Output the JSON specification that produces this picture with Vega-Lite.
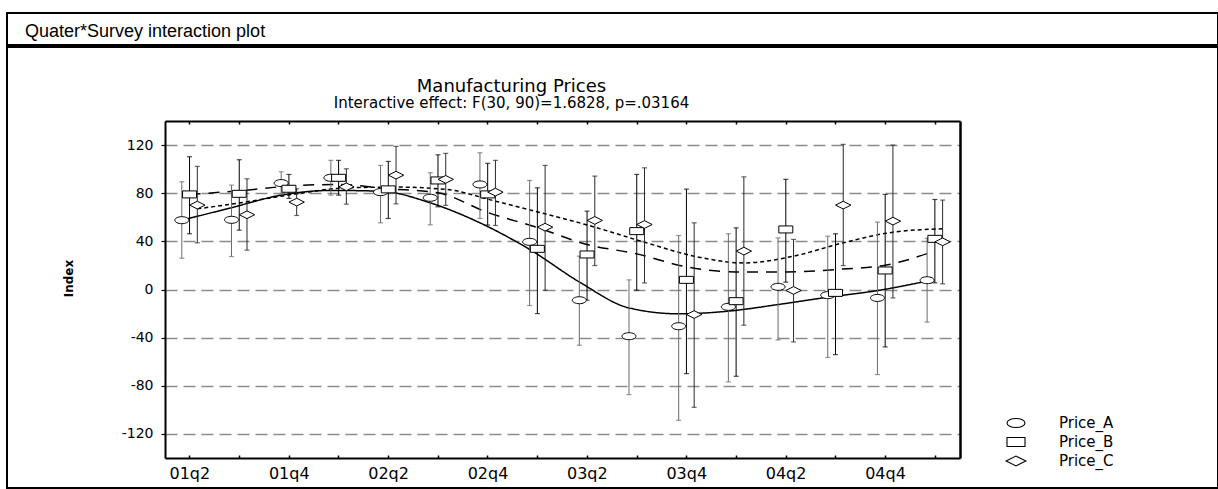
{
  "$schema": "https://vega.github.io/schema/vega-lite/v6.json",
  "background": "white",
  "padding": {"left": 6, "top": 12, "right": 0, "bottom": 0},
  "spacing": 0,
  "config": {
    "view": {"stroke": "black", "strokeWidth": 2, "fill": "white"},
    "font": "DejaVu Sans",
    "axis": {"labelColor": "black", "tickColor": "black", "domainColor": "black", "titleColor": "black", "labelFont": "DejaVu Sans", "titleFont": "DejaVu Sans"},
    "legend": {"labelColor": "black", "labelFont": "DejaVu Sans"},
    "title": {"color": "black", "subtitleColor": "black", "fontWeight": "normal"}
  },
  "datasets": {
    "means": [
      {"q": "01q2", "s": "Price_A", "m": 57.6, "lo": 26.0, "hi": 89.5},
      {"q": "01q3", "s": "Price_A", "m": 57.9, "lo": 27.4, "hi": 86.7},
      {"q": "01q4", "s": "Price_A", "m": 88.4, "lo": 79.0, "hi": 97.8},
      {"q": "02q1", "s": "Price_A", "m": 92.8, "lo": 78.4, "hi": 107.3},
      {"q": "02q2", "s": "Price_A", "m": 80.9, "lo": 55.4, "hi": 103.1},
      {"q": "02q3", "s": "Price_A", "m": 76.2, "lo": 53.7, "hi": 97.0},
      {"q": "02q4", "s": "Price_A", "m": 87.3, "lo": 59.0, "hi": 113.6},
      {"q": "03q1", "s": "Price_A", "m": 39.6, "lo": -13.3, "hi": 90.6},
      {"q": "03q2", "s": "Price_A", "m": -8.9, "lo": -46.3, "hi": 27.7},
      {"q": "03q3", "s": "Price_A", "m": -38.8, "lo": -87.3, "hi": 8.0},
      {"q": "03q4", "s": "Price_A", "m": -30.5, "lo": -108.7, "hi": 44.9},
      {"q": "04q1", "s": "Price_A", "m": -14.4, "lo": -76.8, "hi": 46.3},
      {"q": "04q2", "s": "Price_A", "m": 2.2, "lo": -41.9, "hi": 42.9},
      {"q": "04q3", "s": "Price_A", "m": -4.7, "lo": -56.5, "hi": 44.3},
      {"q": "04q4", "s": "Price_A", "m": -7.0, "lo": -70.7, "hi": 56.0},
      {"q": "05q1", "s": "Price_A", "m": 7.7, "lo": -27.1, "hi": 42.5},
      {"q": "01q2", "s": "Price_B", "m": 79.0, "lo": 46.3, "hi": 110.3},
      {"q": "01q3", "s": "Price_B", "m": 79.5, "lo": 49.3, "hi": 107.8},
      {"q": "01q4", "s": "Price_B", "m": 83.7, "lo": 75.7, "hi": 95.6},
      {"q": "02q1", "s": "Price_B", "m": 92.8, "lo": 78.4, "hi": 107.3},
      {"q": "02q2", "s": "Price_B", "m": 83.2, "lo": 59.0, "hi": 106.4},
      {"q": "02q3", "s": "Price_B", "m": 90.6, "lo": 68.7, "hi": 111.9},
      {"q": "02q4", "s": "Price_B", "m": 79.0, "lo": 53.5, "hi": 104.8},
      {"q": "03q1", "s": "Price_B", "m": 33.8, "lo": -20.0, "hi": 84.5},
      {"q": "03q2", "s": "Price_B", "m": 29.1, "lo": -8.9, "hi": 65.1},
      {"q": "03q3", "s": "Price_B", "m": 48.5, "lo": -0.6, "hi": 95.6},
      {"q": "03q4", "s": "Price_B", "m": 8.0, "lo": -69.9, "hi": 83.4},
      {"q": "04q1", "s": "Price_B", "m": -9.7, "lo": -72.1, "hi": 51.2},
      {"q": "04q2", "s": "Price_B", "m": 49.9, "lo": 6.1, "hi": 91.5},
      {"q": "04q3", "s": "Price_B", "m": -2.8, "lo": -54.1, "hi": 46.3},
      {"q": "04q4", "s": "Price_B", "m": 15.8, "lo": -47.7, "hi": 79.0},
      {"q": "05q1", "s": "Price_B", "m": 42.1, "lo": 5.5, "hi": 74.8},
      {"q": "01q2", "s": "Price_C", "m": 70.1, "lo": 38.8, "hi": 102.3},
      {"q": "01q3", "s": "Price_C", "m": 62.1, "lo": 32.7, "hi": 92.0},
      {"q": "01q4", "s": "Price_C", "m": 72.6, "lo": 61.5, "hi": 83.7},
      {"q": "02q1", "s": "Price_C", "m": 85.3, "lo": 70.9, "hi": 100.3},
      {"q": "02q2", "s": "Price_C", "m": 95.0, "lo": 71.2, "hi": 118.9},
      {"q": "02q3", "s": "Price_C", "m": 91.5, "lo": 69.9, "hi": 113.1},
      {"q": "02q4", "s": "Price_C", "m": 80.9, "lo": 53.2, "hi": 107.3},
      {"q": "03q1", "s": "Price_C", "m": 51.8, "lo": -0.6, "hi": 103.1},
      {"q": "03q2", "s": "Price_C", "m": 57.4, "lo": 19.9, "hi": 94.2},
      {"q": "03q3", "s": "Price_C", "m": 54.0, "lo": 5.5, "hi": 101.1},
      {"q": "03q4", "s": "Price_C", "m": -20.8, "lo": -97.9, "hi": 55.4},
      {"q": "04q1", "s": "Price_C", "m": 31.9, "lo": -29.7, "hi": 93.6},
      {"q": "04q2", "s": "Price_C", "m": -0.8, "lo": -43.6, "hi": 41.6},
      {"q": "04q3", "s": "Price_C", "m": 70.1, "lo": 19.9, "hi": 120.6},
      {"q": "04q4", "s": "Price_C", "m": 56.8, "lo": -7.0, "hi": 120.0},
      {"q": "05q1", "s": "Price_C", "m": 39.6, "lo": 4.7, "hi": 74.3}
    ],
    "curves": [
      {"q": "01q2", "s": "Price_A", "v": 57.5}, {"q": "01q3", "s": "Price_A", "v": 68.0}, {"q": "01q4", "s": "Price_A", "v": 78.4}, {"q": "02q1", "s": "Price_A", "v": 82.3},
      {"q": "02q2", "s": "Price_A", "v": 81.7}, {"q": "02q3", "s": "Price_A", "v": 72.0}, {"q": "02q4", "s": "Price_A", "v": 55.4}, {"q": "03q1", "s": "Price_A", "v": 33.3},
      {"q": "03q2", "s": "Price_A", "v": 6.3}, {"q": "03q3", "s": "Price_A", "v": -15.3}, {"q": "03q4", "s": "Price_A", "v": -20.2}, {"q": "04q1", "s": "Price_A", "v": -18.0},
      {"q": "04q2", "s": "Price_A", "v": -12.5}, {"q": "04q3", "s": "Price_A", "v": -6.4}, {"q": "04q4", "s": "Price_A", "v": -0.9}, {"q": "05q1", "s": "Price_A", "v": 7.0},
      {"q": "01q2", "s": "Price_B", "v": 79.0}, {"q": "01q3", "s": "Price_B", "v": 82.0}, {"q": "01q4", "s": "Price_B", "v": 85.9}, {"q": "02q1", "s": "Price_B", "v": 87.3},
      {"q": "02q2", "s": "Price_B", "v": 83.7}, {"q": "02q3", "s": "Price_B", "v": 80.3}, {"q": "02q4", "s": "Price_B", "v": 64.0}, {"q": "03q1", "s": "Price_B", "v": 51.5},
      {"q": "03q2", "s": "Price_B", "v": 37.4}, {"q": "03q3", "s": "Price_B", "v": 29.6}, {"q": "03q4", "s": "Price_B", "v": 18.8}, {"q": "04q1", "s": "Price_B", "v": 14.6},
      {"q": "04q2", "s": "Price_B", "v": 14.6}, {"q": "04q3", "s": "Price_B", "v": 16.6}, {"q": "04q4", "s": "Price_B", "v": 20.2}, {"q": "05q1", "s": "Price_B", "v": 32.0},
      {"q": "01q2", "s": "Price_C", "v": 67.0}, {"q": "01q3", "s": "Price_C", "v": 72.9}, {"q": "01q4", "s": "Price_C", "v": 79.5}, {"q": "02q1", "s": "Price_C", "v": 84.5},
      {"q": "02q2", "s": "Price_C", "v": 85.1}, {"q": "02q3", "s": "Price_C", "v": 83.2}, {"q": "02q4", "s": "Price_C", "v": 73.4}, {"q": "03q1", "s": "Price_C", "v": 62.9},
      {"q": "03q2", "s": "Price_C", "v": 51.8}, {"q": "03q3", "s": "Price_C", "v": 39.3}, {"q": "03q4", "s": "Price_C", "v": 27.7}, {"q": "04q1", "s": "Price_C", "v": 22.1},
      {"q": "04q2", "s": "Price_C", "v": 27.7}, {"q": "04q3", "s": "Price_C", "v": 38.8}, {"q": "04q4", "s": "Price_C", "v": 47.6}, {"q": "05q1", "s": "Price_C", "v": 50.4}
    ]
  },
  "vconcat": [
    {
      "width": 1211,
      "height": 32,
      "title": {"text": "Quater*Survey  interaction plot", "anchor": "start", "frame": "group", "offset": -28, "dx": 18, "font": "Liberation Sans", "fontSize": 18},
      "data": {"values": [{"k": 0}]},
      "mark": {"type": "point", "opacity": 0, "size": 1},
      "encoding": {
        "x": {"field": "k", "type": "quantitative", "scale": {"domain": [-1, 1]}, "axis": null},
        "y": {"field": "k", "type": "quantitative", "scale": {"domain": [-1, 1]}, "axis": null}
      }
    },
    {
      "width": 1211,
      "height": 441,
      "title": {"text": "Manufacturing Prices", "subtitle": "Interactive effect: F(30, 90)=1.6828, p=.03164", "anchor": "middle", "frame": "group", "offset": -64, "dx": -101, "font": "DejaVu Sans", "fontSize": 18, "subtitleFont": "DejaVu Sans", "subtitleFontSize": 15, "subtitlePadding": 0},
      "resolve": {"axis": {"x": "independent", "y": "independent"}},
      "layer": [
        {
          "data": {"name": "curves"},
          "mark": {"type": "line", "interpolate": "monotone", "color": "black", "strokeWidth": 1.5},
          "encoding": {
            "x": {"field": "q", "type": "ordinal",
              "scale": {"type": "band", "domain": ["01q2","01q3","01q4","02q1","02q2","02q3","02q4","03q1","03q2","03q3","03q4","04q1","04q2","04q3","04q4","05q1"], "range": [158, 953], "paddingInner": 0, "paddingOuter": 0},
              "axis": {"orient": "top", "offset": -74, "labels": false, "tickSize": -3, "tickWidth": 1.5, "domainWidth": 2, "grid": false, "title": null}},
            "xOffset": {"field": "s", "type": "nominal", "scale": {"type": "point", "domain": ["Price_A","Price_B","Price_C"], "range": [16.8, 32.3], "padding": 0}},
            "y": {"field": "v", "type": "quantitative",
              "scale": {"domain": [-140, 140], "nice": false, "zero": false, "range": [411, 74]},
              "axis": {"orient": "right", "offset": -258, "labels": false, "ticks": false, "grid": false, "domainWidth": 2.5, "title": null}},
            "strokeDash": {"field": "s", "type": "nominal", "scale": {"range": [[1, 0], [11, 8], [4, 3]]}, "legend": null}
          }
        },
        {
          "data": {"name": "means"},
          "mark": {"type": "rule", "strokeWidth": 1},
          "encoding": {
            "x": {"field": "q", "type": "ordinal", "axis": null},
            "xOffset": {"field": "s", "type": "nominal"},
            "y": {"field": "lo", "type": "quantitative", "axis": null},
            "y2": {"field": "hi"},
            "color": {"field": "s", "type": "nominal", "scale": {"range": ["#6b6b6b", "#000000", "#2a2a2a"]}, "legend": null}
          }
        },
        {
          "data": {"name": "means"},
          "transform": [{"fold": ["lo", "hi"], "as": ["bound", "bv"]}],
          "mark": {"type": "tick", "orient": "horizontal", "size": 5, "thickness": 1.2},
          "encoding": {
            "x": {"field": "q", "type": "ordinal", "axis": null},
            "xOffset": {"field": "s", "type": "nominal"},
            "y": {"field": "bv", "type": "quantitative", "axis": null},
            "color": {"field": "s", "type": "nominal", "legend": null}
          }
        },
        {
          "data": {"name": "means"},
          "mark": {"type": "point", "filled": true, "fill": "white", "stroke": "black", "strokeWidth": 1, "opacity": 1, "size": 196},
          "encoding": {
            "x": {"field": "q", "type": "ordinal",
              "axis": {"orient": "bottom", "offset": -30, "tickSize": -3, "tickWidth": 1.5, "domainWidth": 2, "labelAngle": 0, "labelFontSize": 16, "labelPadding": 10, "labelExpr": "indexof(datum.value, 'q2') >= 0 || indexof(datum.value, 'q4') >= 0 ? datum.value : ''", "title": null, "grid": false}},
            "xOffset": {"field": "s", "type": "nominal"},
            "y": {"field": "m", "type": "quantitative",
              "axis": {"orient": "left", "offset": -158, "values": [-120, -80, -40, 0, 40, 80, 120], "grid": true, "gridDash": [12, 6], "gridColor": "#8c8c8c", "gridWidth": 1.5, "tickSize": 4, "tickWidth": 1.2, "domainWidth": 2, "labelFontSize": 14, "labelPadding": 8, "labelExpr": "replace(datum.label, '\u2212', '-')", "title": "Index", "titleFontSize": 12, "titleFontWeight": "bold", "titleX": -90, "titleY": 231, "titleAngle": -90}},
            "shape": {"field": "s", "type": "nominal",
              "scale": {"domain": ["Price_A","Price_B","Price_C"], "range": ["M-1,0A1,0.5,0,1,0,1,0A1,0.5,0,1,0,-1,0Z", "M-1,-0.5L1,-0.5L1,0.5L-1,0.5Z", "M-1.1,0L0,-0.55L1.1,0L0,0.55Z"]},
              "legend": {"orient": "none", "legendX": 999, "legendY": 400, "title": null, "labelFontSize": 15, "labelOffset": 33, "rowPadding": 1, "symbolSize": 324, "symbolStrokeWidth": 1.1,
                "encode": {"symbols": {
                  "shape": {"signal": "datum.value === 'Price_A' ? 'M-2.9,-0.9L2.9,-0.9M-2.9,-0.8L-0.7,-0.19M0.7,0.19L2.9,0.8M-0.78,0A0.78,0.39,0,1,0,0.78,0A0.78,0.39,0,1,0,-0.78,0Z' : datum.value === 'Price_B' ? 'M-2.9,-0.9L2.9,-0.9M-2.9,-0.8L-0.78,-0.21M0.78,0.21L2.9,0.8M-0.78,-0.39L0.78,-0.39L0.78,0.39L-0.78,0.39Z' : 'M-2.9,-0.9L2.9,-0.9M-2.9,-0.8L-0.86,-0.23M0.86,0.23L2.9,0.8M-0.86,0L0,-0.43L0.86,0L0,0.43Z'"},
                  "strokeDash": {"signal": "datum.value === 'Price_B' ? [8, 4] : datum.value === 'Price_C' ? [3, 2] : [1, 0]"}
                }}}
            }
          }
        }
      ]
    }
  ]
}
